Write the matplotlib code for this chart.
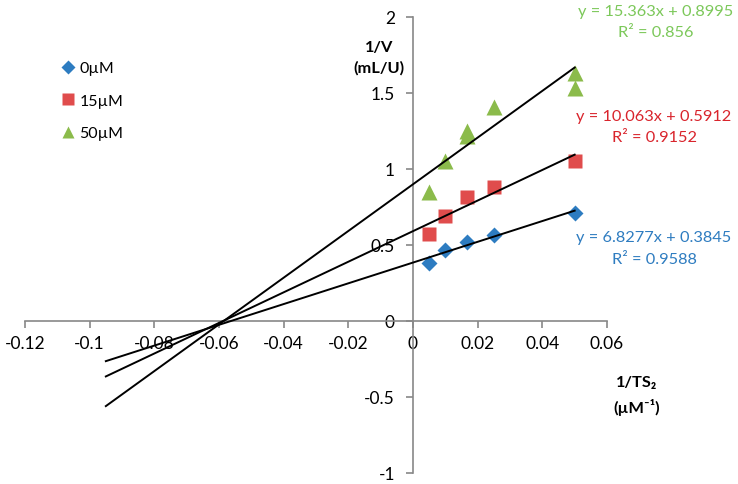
import numpy as np
import matplotlib
matplotlib.use("Agg")
import matplotlib.pyplot as plt

plt.rcParams['font.family'] = ['Lato', 'DejaVu Sans']

# data
x0 = [0.005, 0.01, 0.0167, 0.025, 0.05]
y0 = [0.38, 0.465, 0.52, 0.566, 0.71]

x15 = [0.005, 0.01, 0.0167, 0.025, 0.05]
y15 = [0.57, 0.69, 0.816, 0.884, 1.05]

x50 = [0.005, 0.01, 0.0167, 0.0167, 0.025, 0.05, 0.05]
y50 = [0.85, 1.05, 1.22, 1.25, 1.41, 1.63, 1.53]

labels = ['0µM', '15µM', '50µM']
slopes = [6.8277, 10.063, 15.363]
intercepts = [0.3845, 0.5912, 0.8995]
r2 = ['0.9588', '0.9152', '0.856']
fit_range = [-0.095, 0.05]

xticks = [-0.12, -0.1, -0.08, -0.06, -0.04, -0.02, 0, 0.02, 0.04, 0.06]
xticklabels = ['-0.12', '-0.1', '-0.08', '-0.06', '-0.04', '-0.02', '0', '0.02', '0.04', '0.06']
yticks = [-1, -0.5, 0, 0.5, 1, 1.5, 2]
yticklabels = ['-1', '-0.5', '0', '0.5', '1', '1.5', '2']

marker_cols = ['#2D7CC1', '#E04C4C', '#8BBB4B']
text_cols = ['#2E7CC0', '#D9242C', '#7CC85A']

W, H = 738, 485
fig = plt.figure(figsize=(W / 100, H / 100), dpi=100)
ax = fig.add_axes([25 / W, 1 - 474 / H, (607 - 25) / W, (474 - 18) / H])

ax.plot(x0, y0, 'D', color=marker_cols[0], ms=8, mec='none', label=labels[0], zorder=3)
ax.plot(x15, y15, 's', color=marker_cols[1], ms=10, mec='none', label=labels[1], zorder=3)
ax.plot(x50, y50, '^', color=marker_cols[2], ms=11, mec='none', label=labels[2], zorder=3)

xf = np.array(fit_range)
for m, b in zip(slopes, intercepts):
    ax.plot(xf, m * xf + b, color='black', lw=1.4, zorder=4)

ax.set_xlim(-0.12, 0.06)
ax.set_ylim(-1, 2)
ax.spines['left'].set_position(('data', 0))
ax.spines['bottom'].set_position(('data', 0))
ax.spines['top'].set_visible(False)
ax.spines['right'].set_visible(False)
for s in ['left', 'bottom']:
    ax.spines[s].set_color('#888888')
    ax.spines[s].set_linewidth(1.2)
ax.set_xticks(xticks)
ax.set_xticklabels(xticklabels)
ax.set_yticks(yticks)
ax.set_yticklabels(yticklabels)
ax.tick_params(axis='both', direction='out', length=5, width=1.2, color='#888888',
               labelsize=12.5, labelcolor='black')
ax.tick_params(axis='x', pad=5)
ax.tick_params(axis='y', pad=8)
ax.patch.set_visible(False)

leg = fig.legend(loc='upper left', bbox_to_anchor=(54 / W, 1 - 54 / H), frameon=False,
                 fontsize=11.5, handlelength=0.8, handletextpad=0.3, labelspacing=1.15,
                 borderpad=0, markerscale=0.85)

# trendline equations
eq_pos = [(654, 238, 260), (654, 117, 138), (656, 12, 33)]
for i, (cx, y1, y2) in enumerate(eq_pos):
    fig.text(cx / W, 1 - y1 / H, f'y = {slopes[i]}x + {intercepts[i]}', color=text_cols[i],
             ha='center', va='center', fontsize=11.8)
    fig.text(cx / W, 1 - y2 / H, f'R² = {r2[i]}', color=text_cols[i],
             ha='center', va='center', fontsize=11.8)

fig.text(379 / W, 1 - 58 / H, '1/V\n(mL/U)', ha='center', va='center', fontsize=11.8,
         fontweight='bold', linespacing=1.55)
fig.text(637 / W, 1 - 396 / H, '1/TS₂\n(µM⁻¹)', ha='center', va='center', fontsize=11.8,
         fontweight='bold', linespacing=1.7)

fig.savefig('out.png', dpi=100)
